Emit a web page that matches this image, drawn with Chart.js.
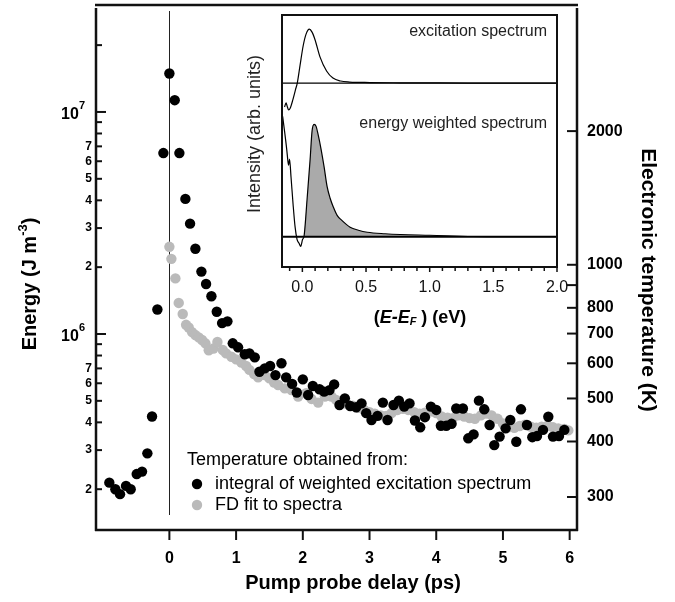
<!DOCTYPE html>
<html>
<head>
<meta charset="utf-8">
<script src="https://cdn.jsdelivr.net/npm/chart.js@4/dist/chart.umd.min.js"></script>
<style>
html,body{margin:0;padding:0;background:#fff;}
#wrap{position:relative;width:675px;height:602px;background:#fff;}
#main{position:absolute;left:0;top:0;}
#inset{position:absolute;left:240px;top:0;}
</style>
</head>
<body>
<div id="wrap">
  <canvas id="main" width="675" height="602"></canvas>
  <canvas id="inset" width="340" height="330"></canvas>
</div>
<script>
// --- main panel: energy density vs pump-probe delay ---
const blackDelay = [-0.90,-0.81,-0.74,-0.65,-0.58,-0.49,-0.41,-0.33,-0.26,-0.18,-0.09,
  0.00,0.08,0.15,0.24,0.31,0.39,0.48,0.55,0.63,0.71,0.79,0.87,0.95,
  1.03,1.13,1.20,1.28,1.35,1.43,1.51,1.59,1.68,1.75,1.84,1.91,
  2.00,2.08,2.15,2.25,2.32,2.40,2.47,2.55,2.63,2.71,2.80,2.88,2.95,
  3.03,3.12,3.20,3.27,3.36,3.44,3.52,3.60,3.68,3.76,3.83,3.92,
  4.00,4.07,4.15,4.23,4.30,4.40,4.48,4.56,4.64,4.72,4.80,4.87,4.95,
  5.04,5.11,5.20,5.27,5.36,5.44,5.51,5.60,5.68,5.75,5.84,5.92]
const blackEnergy = [2.14e5,2.00e5,1.90e5,2.07e5,2.00e5,2.34e5,2.40e5,2.90e5,4.25e5,1.29e6,6.53e6,
  1.49e7,1.13e7,6.53e6,4.06e6,3.14e6,2.42e6,1.91e6,1.68e6,1.48e6,1.26e6,1.12e6,1.14e6,9.08e5,
  8.71e5,8.11e5,8.18e5,7.85e5,6.76e5,7.00e5,7.18e5,6.53e5,7.38e5,6.38e5,5.96e5,5.45e5,
  6.25e5,5.31e5,5.83e5,5.64e5,5.50e5,5.59e5,5.93e5,4.79e5,5.13e5,4.74e5,4.68e5,4.87e5,4.40e5,
  4.10e5,4.28e5,4.91e5,4.10e5,4.79e5,5.01e5,4.71e5,4.87e5,4.08e5,3.80e5,4.22e5,4.71e5,
  4.55e5,3.86e5,3.86e5,3.94e5,4.62e5,4.62e5,3.39e5,3.53e5,5.01e5,4.58e5,3.89e5,3.16e5,3.45e5,
  3.76e5,4.10e5,3.27e5,4.58e5,3.89e5,3.43e5,3.47e5,3.70e5,4.24e5,3.45e5,3.47e5,3.70e5]

const grayDelay = [0.00,0.03,0.09,0.14,0.20,0.25,0.29,0.34,0.39,0.44,0.49,0.54,0.59,0.66,0.72,0.80,0.85,0.93,
  1.00,1.08,1.15,1.20,1.27,1.33,1.43,1.50,1.57,1.63,1.73,1.83,1.93,
  2.05,2.13,2.23,2.33,2.43,2.50,2.58,2.66,2.75,2.83,2.92,
  3.00,3.08,3.17,3.25,3.33,3.42,3.50,3.58,3.67,3.75,3.83,3.92,
  4.00,4.08,4.17,4.25,4.33,4.42,4.50,4.58,4.67,4.75,4.83,4.92,
  5.00,5.08,5.17,5.25,5.33,5.42,5.50,5.58,5.67,5.75,5.83,5.92,5.98]
const grayEnergy = [2.47e6,2.18e6,1.78e6,1.38e6,1.23e6,1.10e6,1.07e6,1.02e6,9.89e5,9.66e5,9.40e5,9.08e5,8.45e5,8.60e5,9.20e5,8.47e5,8.18e5,7.90e5,
  7.69e5,7.43e5,7.18e5,6.89e5,6.60e5,6.38e5,6.53e5,6.31e5,6.05e5,5.89e5,5.69e5,5.59e5,5.23e5,
  5.41e5,5.10e5,4.91e5,5.23e5,5.23e5,5.05e5,4.95e5,4.85e5,4.75e5,4.65e5,4.55e5,
  4.45e5,4.38e5,4.30e5,4.28e5,4.40e5,4.55e5,4.60e5,4.55e5,4.45e5,4.38e5,4.42e5,4.48e5,
  4.40e5,4.25e5,4.20e5,4.18e5,4.30e5,4.25e5,4.18e5,4.15e5,4.30e5,4.38e5,4.30e5,4.15e5,
  3.95e5,3.80e5,3.78e5,3.85e5,3.90e5,3.82e5,3.78e5,3.82e5,3.86e5,3.80e5,3.76e5,3.74e5,3.68e5]

// axis ranges; electronic energy E = K_E * T^2
const X_MIN = -1.10, X_MAX = 6.11
const E_MIN = 1.31e5, E_MAX = 2.97e7
const K_E = 2.05
const T_MIN = Math.sqrt(E_MIN / K_E), T_MAX = Math.sqrt(E_MAX / K_E)

const delayTicks = [0, 1, 2, 3, 4, 5, 6]
const energyDecades = [1e6, 1e7]
const energyLabelled = [2e5,3e5,4e5,5e5,6e5,7e5, 2e6,3e6,4e6,5e6,6e6,7e6]
const energyPlain = [8e5, 9e5, 8e6, 9e6, 2e7]
const tempTicks = [300, 400, 500, 600, 700, 800, 900, 1000, 2000]
const tempLabelled = [300, 400, 500, 600, 700, 800, 1000, 2000]

// --- inset: spectra vs E-E_F ---
const excEnergy = [-0.14,-0.128,-0.12,-0.108,-0.095,-0.075,-0.055,-0.04,-0.018,0.006,0.029,0.055,0.076,0.10,0.139,0.19,0.24,0.30,0.37,0.53,0.77,1.0,1.3,2.0]
const excIntensity = [-9.5,-7.9,-9.1,-10.7,-9.9,-6.7,-2.8,0,7.1,14.7,19.4,21.4,20.2,17.1,10.3,4.8,2.0,0.8,0.4,0.2,0.1,0.05,0,0]
const wEnergy = [-0.155,-0.142,-0.123,-0.119,-0.1085,-0.1006,-0.089,-0.073,-0.057,-0.042,-0.026,-0.013,0.002,0.013,0.037,0.061,0.076,0.092,0.108,0.123,0.147,0.171,0.194,0.218,0.244,0.273,0.31,0.375,0.44,0.51,0.65,0.77,1.0,1.34,1.55,2.0]
const wIntensity = [47.8,42.7,34.7,32.7,28.4,30.8,23.6,12.9,3.8,-1.0,-2.6,-3.8,-1.0,0.2,14.9,30.8,41.9,44.6,43.8,40.7,34.7,27.6,20.0,15.3,11.7,8.5,6.5,3.8,2.6,1.8,1.2,0.9,0.6,0.1,0,0]
const EXC_OFFSET = 61
const INSET_X_MIN = -0.16, INSET_X_MAX = 2.0
const insetMajor = [0.0, 0.5, 1.0, 1.5, 2.0]

const SANS = '"Liberation Sans", Arial, sans-serif'

// draws text made of runs (font changes / super- and subscripts)
function drawRuns(ctx, runs, x, y, align) {
  let w = 0
  runs.forEach(r => { ctx.font = r.f; r.w = ctx.measureText(r.t).width; w += r.w })
  let cx = align === 'right' ? x - w : align === 'center' ? x - w / 2 : x
  ctx.textAlign = 'left'
  runs.forEach(r => { ctx.font = r.f; ctx.fillText(r.t, cx, y + (r.dy || 0)); cx += r.w })
}

function line(ctx, x1, y1, x2, y2) {
  ctx.beginPath(); ctx.moveTo(x1, y1); ctx.lineTo(x2, y2); ctx.stroke()
}

const mainDecor = {
  id: 'mainDecor',
  beforeDatasetsDraw(chart) {
    const { ctx, chartArea: a, scales: { x } } = chart
    const px = Math.round(x.getPixelForValue(0)) + 0.5
    ctx.save()
    ctx.strokeStyle = '#222'; ctx.lineWidth = 1
    line(ctx, px, a.top + 4, px, a.bottom - 15)
    ctx.restore()
  },
  afterDraw(chart) {
    const { ctx, chartArea: a, scales: { x, y, yT } } = chart
    ctx.save()
    ctx.fillStyle = '#000'; ctx.strokeStyle = '#111'
    ctx.textBaseline = 'middle'

    // frame
    ctx.lineWidth = 2.5
    line(ctx, a.left, a.top + 1, a.left, a.bottom + 1)
    line(ctx, a.right, a.top + 1, a.right, a.bottom + 1)
    line(ctx, a.left - 1, a.bottom, a.right + 1, a.bottom)
    line(ctx, a.left - 1, a.top - 2, a.right + 1, a.top - 2)

    // x ticks (outside, downwards)
    ctx.lineWidth = 2
    ctx.font = 'bold 16px ' + SANS; ctx.textAlign = 'center'
    delayTicks.forEach(v => {
      const px = x.getPixelForValue(v)
      line(ctx, px, a.bottom, px, a.bottom + 10)
      ctx.fillText(String(v), px, a.bottom + 29)
    })

    // left energy ticks (inside)
    energyDecades.forEach(v => {
      const py = y.getPixelForValue(v)
      line(ctx, a.left, py, a.left + 10, py)
      drawRuns(ctx, [
        { t: '10', f: 'bold 16px ' + SANS, dy: 3 },
        { t: String(Math.round(Math.log10(v))), f: 'bold 11px ' + SANS, dy: -6 }
      ], a.left - 11, py, 'right')
    })
    energyLabelled.forEach(v => {
      const py = y.getPixelForValue(v)
      line(ctx, a.left, py, a.left + 6, py)
      ctx.font = 'bold 12px ' + SANS; ctx.textAlign = 'right'
      const m = Math.round(v / Math.pow(10, Math.floor(Math.log10(v) + 1e-9)))
      ctx.fillText(String(m), a.left - 4, py)
    })
    energyPlain.forEach(v => {
      const py = y.getPixelForValue(v)
      line(ctx, a.left, py, a.left + 6, py)
    })

    // right temperature ticks (inside)
    ctx.font = 'bold 16px ' + SANS; ctx.textAlign = 'left'
    tempTicks.forEach(v => {
      const py = yT.getPixelForValue(v)
      line(ctx, a.right - 10, py, a.right, py)
      if (tempLabelled.includes(v)) ctx.fillText(String(v), a.right + 10, py)
    })

    // axis titles
    ctx.font = 'bold 20px ' + SANS; ctx.textAlign = 'center'
    ctx.fillText('Pump probe delay (ps)', 353, 583)

    ctx.save()
    ctx.translate(30, 284); ctx.rotate(-Math.PI / 2)
    drawRuns(ctx, [
      { t: 'Energy (J m', f: 'bold 20px ' + SANS },
      { t: '-3', f: 'bold 13px ' + SANS, dy: -7 },
      { t: ')', f: 'bold 20px ' + SANS }
    ], 0, 0, 'center')
    ctx.restore()

    ctx.save()
    ctx.translate(648, 280); ctx.rotate(Math.PI / 2)
    ctx.font = 'bold 21px ' + SANS; ctx.textAlign = 'center'
    ctx.fillText('Electronic temperature (K)', 0, 0)
    ctx.restore()

    // legend
    ctx.font = '18px ' + SANS; ctx.textAlign = 'left'
    ctx.fillText('Temperature obtained from:', 187, 460)
    const items = [
      { c: '#000', t: 'integral of weighted excitation spectrum', yy: 484 },
      { c: '#bababa', t: 'FD fit to spectra', yy: 505 }
    ]
    items.forEach(it => {
      ctx.fillStyle = it.c
      ctx.beginPath(); ctx.arc(197, it.yy, 5.2, 0, Math.PI * 2); ctx.fill()
      ctx.fillStyle = '#000'
      ctx.fillText(it.t, 215, it.yy)
    })
    ctx.restore()
  }
}

new Chart(document.getElementById('main'), {
  type: 'scatter',
  data: {
    datasets: [
      {
        label: 'integral of weighted excitation spectrum',
        data: blackDelay.map((d, i) => ({ x: d, y: blackEnergy[i] })),
        backgroundColor: '#000', borderColor: '#000',
        pointRadius: 5.2, pointBorderWidth: 0
      },
      {
        label: 'FD fit to spectra',
        data: grayDelay.map((d, i) => ({ x: d, y: grayEnergy[i] })),
        backgroundColor: '#bababa', borderColor: '#bababa',
        pointRadius: 5.2, pointBorderWidth: 0
      }
    ]
  },
  options: {
    responsive: false,
    animation: false,
    layout: { padding: { left: 96, top: 7, right: 98, bottom: 72 } },
    plugins: { legend: { display: false }, tooltip: { enabled: false } },
    scales: {
      x: { type: 'linear', min: X_MIN, max: X_MAX, display: false },
      y: { type: 'logarithmic', min: E_MIN, max: E_MAX, display: false },
      yT: { type: 'logarithmic', position: 'right', min: T_MIN, max: T_MAX, display: false }
    }
  },
  plugins: [mainDecor]
})

// --- inset chart ---
const insetDecor = {
  id: 'insetDecor',
  afterDraw(chart) {
    const { ctx, chartArea: a, scales: { x } } = chart
    ctx.save()
    ctx.strokeStyle = '#111'; ctx.fillStyle = '#111'
    ctx.lineWidth = 2
    ctx.strokeRect(a.left, a.top, a.right - a.left, a.bottom - a.top)

    // ticks every 0.1 eV below the frame
    ctx.lineWidth = 1.5
    for (let k = -1; k <= 20; k++) {
      const v = k / 10
      const px = x.getPixelForValue(v)
      const major = k % 5 === 0
      line(ctx, px, a.bottom, px, a.bottom + (major ? 5 : 4))
    }
    ctx.textBaseline = 'middle'
    ctx.font = '16px ' + SANS; ctx.textAlign = 'center'
    insetMajor.forEach(v => ctx.fillText(v.toFixed(1), x.getPixelForValue(v), a.bottom + 21))

    // labels inside the inset
    ctx.fillStyle = '#222'
    ctx.textAlign = 'right'
    ctx.fillText('excitation spectrum', a.right - 10, 32)
    ctx.fillText('energy weighted spectrum', a.right - 10, 124)

    // x title (E-E_F) (eV)
    ctx.fillStyle = '#000'
    drawRuns(ctx, [
      { t: '(', f: 'bold 18px ' + SANS },
      { t: 'E-E', f: 'italic bold 18px ' + SANS },
      { t: 'F', f: 'italic bold 11px ' + SANS, dy: 4 },
      { t: ' ) (eV)', f: 'bold 18px ' + SANS }
    ], 180, 318, 'center')

    // y title
    ctx.save()
    ctx.translate(15, 134); ctx.rotate(-Math.PI / 2)
    ctx.font = '18px ' + SANS; ctx.textAlign = 'center'
    ctx.fillStyle = '#222'
    ctx.fillText('Intensity (arb. units)', 0, 0)
    ctx.restore()
    ctx.restore()
  }
}

const weightedFill = wEnergy
  .map((e, i) => ({ x: e, y: wIntensity[i] }))
  .filter(p => p.x >= 0.01)

new Chart(document.getElementById('inset'), {
  type: 'line',
  data: {
    datasets: [
      {
        label: 'excitation spectrum',
        data: excEnergy.map((e, i) => ({ x: e, y: excIntensity[i] + EXC_OFFSET })),
        borderColor: '#000', borderWidth: 1.2, pointRadius: 0, fill: false,
        cubicInterpolationMode: 'monotone'
      },
      {
        label: 'excitation baseline',
        data: [{ x: INSET_X_MIN, y: EXC_OFFSET }, { x: INSET_X_MAX, y: EXC_OFFSET }],
        borderColor: '#000', borderWidth: 1.2, pointRadius: 0, fill: false
      },
      {
        label: 'energy weighted spectrum',
        data: wEnergy.map((e, i) => ({ x: e, y: wIntensity[i] })),
        borderColor: '#000', borderWidth: 1.2, pointRadius: 0, fill: false,
        cubicInterpolationMode: 'monotone'
      },
      {
        label: 'weighted baseline',
        data: [{ x: INSET_X_MIN, y: 0 }, { x: INSET_X_MAX, y: 0 }],
        borderColor: '#000', borderWidth: 2.2, pointRadius: 0, fill: false
      },
      {
        label: 'weighted area',
        data: weightedFill,
        borderColor: 'rgba(0,0,0,0)', borderWidth: 0, pointRadius: 0,
        backgroundColor: '#aaaaaa', fill: { value: 0 },
        cubicInterpolationMode: 'monotone'
      }
    ]
  },
  options: {
    responsive: false,
    animation: false,
    layout: { padding: { left: 42, top: 15, right: 23, bottom: 63 } },
    plugins: { legend: { display: false }, tooltip: { enabled: false } },
    scales: {
      x: { type: 'linear', min: INSET_X_MIN, max: INSET_X_MAX, display: false },
      y: { type: 'linear', min: -12, max: 88, display: false }
    }
  },
  plugins: [insetDecor]
})
</script>
</body>
</html>
